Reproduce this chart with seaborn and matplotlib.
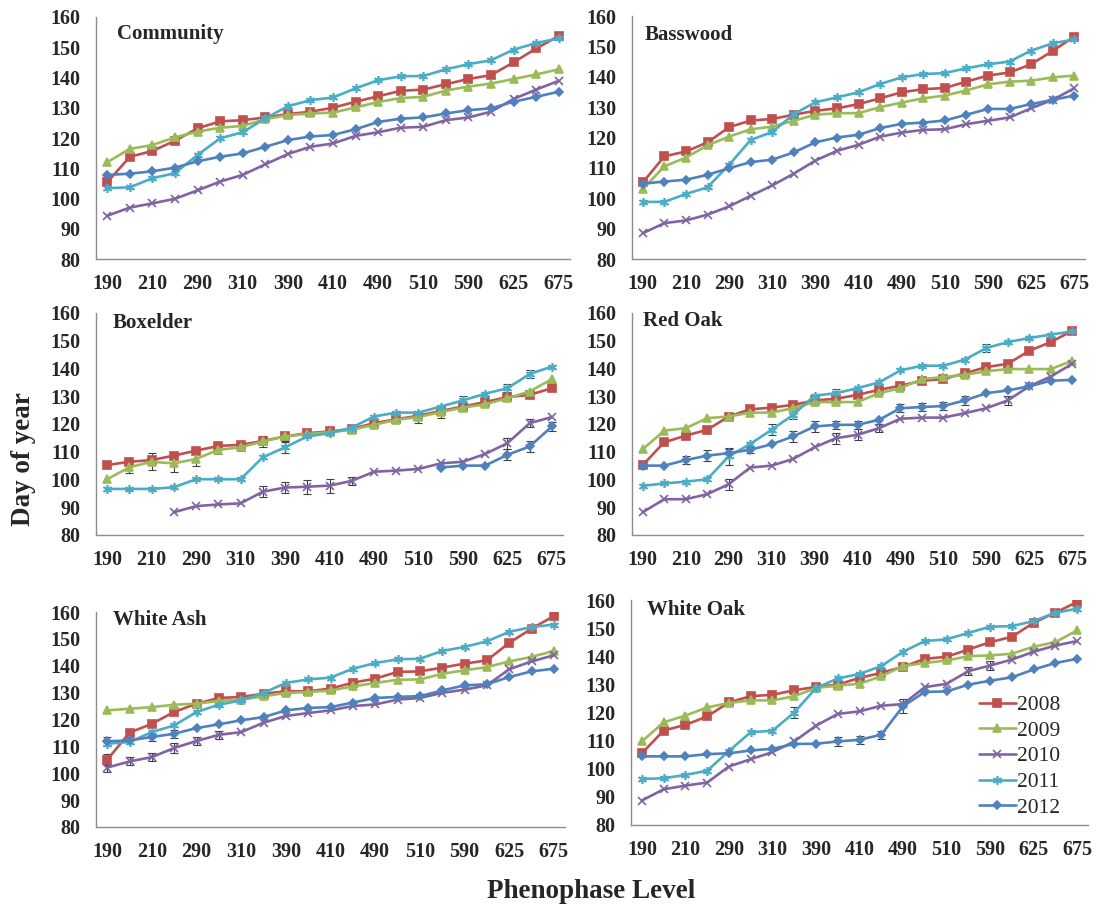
import numpy as np
import pandas as pd
import matplotlib
matplotlib.use("Agg")
import matplotlib.pyplot as plt
import seaborn as sns

# ---------------- data ----------------
levels = ["190", "200", "210", "250", "290", "300", "310", "350", "390", "400", "410",
          "450", "490", "500", "510", "550", "590", "600", "625", "650", "675"]
years = ["2008", "2009", "2010", "2011", "2012"]
panels = ["Community", "Basswood", "Boxelder", "Red Oak", "White Ash", "White Oak"]
NA = np.nan

community_2008 = [105.4, 113.8, 115.7, 119.1, 123.2, 125.5, 125.9, 126.8, 127.9, 128.7, 130.0,
                  132.0, 133.8, 135.6, 136.0, 137.8, 139.5, 140.8, 145.0, 149.6, 153.7]
community_2009 = [112.0, 116.4, 117.7, 120.2, 122.1, 123.4, 124.0, 126.2, 127.6, 128.1, 128.4,
                  130.1, 131.9, 133.2, 133.6, 135.7, 137.0, 138.0, 139.5, 141.0, 142.7]
community_2010 = [94.3, 97.0, 98.4, 99.9, 102.7, 105.6, 107.8, 111.3, 114.7, 117.1, 118.2,
                  120.7, 121.9, 123.4, 123.7, 125.9, 126.8, 128.7, 132.9, 136.0, 138.9]
community_2011 = [103.4, 103.7, 106.7, 108.4, 114.4, 119.9, 121.9, 126.5, 130.5, 132.5, 133.4,
                  136.4, 139.1, 140.4, 140.5, 142.7, 144.4, 145.7, 149.2, 151.4, 152.9]
community_2012 = [107.8, 108.2, 109.0, 110.2, 112.3, 113.8, 114.9, 117.1, 119.3, 120.5, 121.0,
                  122.9, 125.3, 126.4, 126.8, 128.1, 129.2, 129.8, 132.0, 133.6, 135.3]

basswood_2008 = [105.2, 113.8, 115.4, 118.4, 123.4, 125.6, 126.1, 127.5, 128.8, 129.6, 131.0,
                 132.9, 134.9, 135.9, 136.3, 138.4, 140.4, 141.4, 144.1, 148.5, 153.2]
basswood_2009 = [103.0, 110.5, 113.4, 117.4, 120.3, 122.7, 123.6, 125.5, 127.5, 128.0, 128.0,
                 130.0, 131.5, 132.9, 133.8, 135.5, 137.5, 138.4, 138.7, 139.8, 140.4]
basswood_2010 = [88.5, 91.8, 92.7, 94.6, 97.3, 100.8, 104.2, 108.1, 112.4, 115.6, 117.6,
                 120.3, 121.6, 122.5, 122.7, 124.4, 125.5, 126.6, 129.6, 132.4, 136.2]
basswood_2011 = [98.8, 98.8, 101.4, 103.6, 111.0, 119.2, 121.8, 127.7, 131.6, 133.2, 134.9,
                 137.6, 139.8, 140.9, 141.2, 142.8, 144.1, 145.0, 148.6, 151.0, 152.3]
basswood_2012 = [104.8, 105.5, 106.1, 107.7, 109.9, 111.9, 112.7, 115.1, 118.4, 120.0, 120.9,
                 123.1, 124.5, 124.9, 125.6, 127.5, 129.4, 129.4, 131.0, 132.4, 133.8]

boxelder_2008 = [105.2, 106.4, 107.0, 108.6, 110.4, 112.1, 112.5, 113.9, 115.5, 116.7, 117.3,
                 118.2, 120.3, 121.7, 123.0, 124.7, 126.3, 127.9, 129.7, 130.5, 132.9]
boxelder_2009 = [100.1, 104.4, 106.4, 105.8, 107.4, 110.7, 111.6, 113.7, 115.5, 116.4, 117.0,
                 117.9, 119.7, 121.5, 122.5, 124.3, 125.9, 127.1, 129.3, 131.7, 136.2]
boxelder_2010 = [NA, NA, NA, 88.2, 90.4, 91.0, 91.4, 95.6, 97.1, 97.4, 97.8,
                 99.5, 102.8, 103.2, 103.8, 105.8, 106.4, 109.2, 113.1, 120.3, 122.5]
boxelder_2011 = [96.6, 96.6, 96.6, 97.2, 100.1, 100.1, 100.1, 108.0, 111.6, 115.5, 116.7,
                 118.7, 122.7, 124.1, 124.1, 126.3, 128.5, 130.9, 132.9, 138.0, 140.7]
boxelder_2012 = [NA, NA, NA, NA, NA, NA, NA, NA, NA, NA, NA,
                 NA, NA, NA, NA, 104.3, 105.0, 105.0, 108.9, 111.9, 119.1]

redoak_2008 = [105.2, 113.4, 115.8, 117.9, 122.7, 125.3, 125.9, 126.9, 128.5, 129.1, 130.5,
               132.3, 133.8, 135.6, 136.2, 138.3, 140.5, 141.7, 146.4, 149.5, 153.6]
redoak_2009 = [110.9, 117.6, 118.5, 122.1, 122.7, 124.1, 124.1, 125.7, 127.9, 127.9, 127.9,
               131.1, 132.9, 136.2, 136.9, 137.7, 139.0, 139.8, 139.8, 139.8, 142.8]
redoak_2010 = [88.2, 92.9, 92.9, 94.7, 98.3, 104.3, 105.0, 107.4, 111.6, 114.9, 116.1,
               118.5, 121.9, 122.3, 122.3, 123.9, 125.7, 128.5, 133.6, 137.1, 141.7]
redoak_2011 = [97.7, 98.6, 99.2, 100.1, 108.3, 112.8, 117.9, 123.3, 130.2, 131.1, 132.9,
               135.0, 139.3, 141.0, 141.0, 143.2, 147.4, 149.5, 151.0, 152.2, 153.4]
redoak_2012 = [105.0, 105.0, 107.0, 108.6, 109.5, 110.7, 112.7, 115.5, 119.1, 119.7, 119.7,
               121.5, 125.7, 126.1, 126.5, 128.5, 131.1, 132.1, 133.6, 135.6, 135.9]

whiteash_2008 = [105.0, 115.1, 118.4, 122.8, 125.9, 128.0, 128.4, 129.6, 130.5, 130.5, 131.5,
                 133.7, 135.2, 137.7, 137.9, 139.3, 140.8, 142.0, 148.5, 153.8, 158.5]
whiteash_2009 = [123.4, 124.0, 124.6, 125.5, 125.9, 126.9, 127.4, 128.6, 129.9, 130.2, 130.8,
                 132.3, 133.6, 134.8, 134.9, 137.0, 138.3, 139.5, 141.6, 143.3, 145.5]
whiteash_2010 = [102.1, 104.4, 106.0, 109.4, 112.0, 114.3, 115.3, 118.8, 121.3, 122.4, 123.4,
                 125.0, 125.6, 127.4, 128.0, 129.9, 131.1, 132.7, 138.7, 141.6, 143.9]
whiteash_2011 = [111.0, 111.6, 115.3, 117.8, 122.8, 125.5, 127.1, 129.9, 133.6, 134.9, 135.6,
                 138.9, 141.0, 142.4, 142.6, 145.5, 147.0, 149.1, 152.6, 154.4, 155.3]
whiteash_2012 = [111.9, 112.2, 113.5, 114.7, 116.8, 118.2, 119.7, 120.9, 123.4, 124.3, 124.6,
                 126.3, 128.0, 128.4, 128.7, 130.8, 132.7, 133.1, 135.8, 137.9, 138.9]

whiteoak_2008 = [105.5, 113.6, 115.6, 118.6, 123.6, 125.8, 126.3, 127.9, 129.1, 129.9, 132.3,
                 134.1, 136.2, 139.1, 139.8, 142.4, 145.0, 146.9, 151.9, 155.5, 159.3]
whiteoak_2009 = [109.7, 116.5, 118.9, 121.8, 123.4, 124.3, 124.3, 125.8, 128.7, 129.6, 130.2,
                 132.9, 136.5, 137.6, 138.5, 140.0, 140.3, 140.9, 143.4, 145.0, 149.2]
whiteoak_2010 = [88.7, 92.7, 94.0, 95.1, 100.8, 103.4, 105.9, 109.7, 115.3, 119.5, 120.4,
                 122.4, 123.0, 129.0, 130.2, 134.7, 136.7, 138.8, 141.6, 143.8, 145.4]
whiteoak_2011 = [96.4, 96.6, 97.8, 99.3, 106.3, 113.0, 113.5, 120.0, 128.7, 132.1, 133.7,
                 136.5, 141.6, 145.4, 146.0, 148.3, 150.5, 150.7, 152.5, 155.5, 156.9]
whiteoak_2012 = [104.4, 104.4, 104.4, 105.2, 105.5, 106.5, 107.1, 108.8, 108.9, 109.7, 110.3,
                 112.1, 122.2, 127.3, 127.5, 129.9, 131.3, 132.5, 135.3, 137.6, 139.1]

panel_series = {
    "Community": [community_2008, community_2009, community_2010, community_2011, community_2012],
    "Basswood": [basswood_2008, basswood_2009, basswood_2010, basswood_2011, basswood_2012],
    "Boxelder": [boxelder_2008, boxelder_2009, boxelder_2010, boxelder_2011, boxelder_2012],
    "Red Oak": [redoak_2008, redoak_2009, redoak_2010, redoak_2011, redoak_2012],
    "White Ash": [whiteash_2008, whiteash_2009, whiteash_2010, whiteash_2011, whiteash_2012],
    "White Oak": [whiteoak_2008, whiteoak_2009, whiteoak_2010, whiteoak_2011, whiteoak_2012],
}

# standard errors visible in the picture: (panel, year, level index, error)
error_panel = ["Boxelder"] * 24 + ["Red Oak"] * 22 + ["White Ash"] * 10 + ["White Oak"] * 7
error_year = (["2009"] * 10 + ["2010"] * 7 + ["2011"] * 4 + ["2012"] * 3
              + ["2011"] * 5 + ["2012"] * 12 + ["2010"] * 5
              + ["2010"] * 6 + ["2012"] * 3 + ["2008"]
              + ["2011"] + ["2012"] * 4 + ["2010"] * 2)
error_index = ([1, 2, 3, 4, 5, 6, 7, 8, 14, 15] + [7, 8, 9, 10, 11, 18, 19] + [8, 16, 18, 19] + [18, 19, 20]
               + [4, 6, 7, 9, 16] + [2, 3, 4, 5, 7, 8, 9, 10, 12, 13, 14, 15] + [4, 9, 10, 11, 17]
               + [0, 1, 2, 3, 4, 5] + [0, 2, 3] + [0]
               + [7] + [9, 10, 11, 12] + [15, 16])
error_value = ([2.0, 3.0, 3.0, 2.5, 1.5, 1.5, 2.0, 1.5, 2.0, 2.0] + [2.0, 2.0, 2.5, 2.5, 1.5, 2.0, 1.5]
               + [2.0, 1.5, 1.5, 1.5] + [2.0, 2.0, 1.5]
               + [3.0, 2.0, 1.5, 1.5, 1.5] + [1.5, 2.0, 1.5, 1.0, 2.0, 2.0, 1.5, 1.5, 1.5, 1.5, 1.5, 1.5]
               + [2.0, 2.0, 2.0, 1.5, 1.5]
               + [1.5, 1.5, 1.5, 2.0, 1.5, 1.5] + [1.5, 1.5, 1.5] + [2.0]
               + [2.0] + [1.5, 1.5, 1.5, 2.5] + [1.5, 1.5])

# ---------------- style ----------------
colors = {"2008": "#C0504D", "2009": "#9BBB59", "2010": "#8064A2", "2011": "#4BACC6", "2012": "#4F81BD"}
markers = {"2008": "s", "2009": "^", "2010": "x", "2011": (6, 2, 0), "2012": "D"}
msizes = {"2008": 5.2, "2009": 5.2, "2010": 5.5, "2011": 6.5, "2012": 4.5}

sns.set_theme(style="white")
plt.rcParams["font.family"] = ["Liberation Serif", "DejaVu Serif"]

W, H = 1104, 909
fig = plt.figure(figsize=(W / 100, H / 100), dpi=100)

# axes rectangles in pixels: (left, right, top, bottom)
rects = [(96, 570, 17, 259), (632, 1085, 16, 259),
         (96, 563, 313, 535), (632, 1083, 313, 535),
         (96, 565, 612, 827), (631, 1088, 600, 825)]
title_pos = [(0.044, 0.93), (0.029, 0.92), (0.036, 0.955), (0.025, 0.965), (0.036, 0.965), (0.035, 0.955)]

axis_color = "#8c8c8c"
x_idx = np.arange(len(levels))

for k, name in enumerate(panels):
    l, r, t, b = rects[k]
    ax = fig.add_axes([l / W, 1 - b / H, (r - l) / W, (b - t) / H])
    rows = []
    for year, vals in zip(years, panel_series[name]):
        for i, v in enumerate(vals):
            rows.append({"idx": i, "day": v, "year": year})
    df = pd.DataFrame(rows).dropna()

    # error bars first (behind lines)
    for p, yr, i, e in zip(error_panel, error_year, error_index, error_value):
        if p == name:
            v = panel_series[name][years.index(yr)][i]
            ax.errorbar([i], [v], yerr=[e], fmt="none", ecolor="#404040", elinewidth=0.8,
                        capsize=3, capthick=0.8, zorder=1)

    for year in years:
        sub = df[df["year"] == year]
        sns.lineplot(data=sub, x="idx", y="day", ax=ax, color=colors[year],
                     marker=markers[year], markersize=msizes[year], linewidth=1.9,
                     markeredgecolor=colors[year], markeredgewidth=1.2,
                     label=year, legend=False, zorder=3)

    ax.set_xlim(-0.5, len(levels) - 0.5)
    ax.set_ylim(80, 160)
    ax.set_yticks(np.arange(80, 161, 10))
    ax.set_xticks(x_idx[::2])
    ax.set_xticklabels(levels[::2])
    ax.set_xticks(np.arange(-0.5, len(levels), 1.0), minor=True)
    ax.set_xlabel("")
    ax.set_ylabel("")
    for s in ["top", "right"]:
        ax.spines[s].set_visible(False)
    for s in ["left", "bottom"]:
        ax.spines[s].set_color(axis_color)
        ax.spines[s].set_linewidth(1.0)
    ax.tick_params(axis="x", which="major", length=0, pad=11, labelsize=14.5)
    ax.tick_params(axis="x", which="minor", length=5, color=axis_color, width=1.0, direction="out")
    ax.tick_params(axis="y", which="major", length=4, color=axis_color, width=1.0, direction="out",
                   pad=7, labelsize=14.5)
    for lab in ax.get_xticklabels() + ax.get_yticklabels():
        lab.set_fontweight("bold")
    ax.grid(False)
    ax.set_facecolor("white")
    tx, ty = title_pos[k]
    ax.text(tx, ty, name, transform=ax.transAxes, ha="left", va="center",
            fontsize=15, fontweight="bold")

    if name == "White Oak":
        handles, labels_ = ax.get_legend_handles_labels()
        ax.legend(handles, labels_, loc="upper left",
                  bbox_to_anchor=(979 / W, 1 - 695 / H), bbox_transform=fig.transFigure,
                  frameon=False, fontsize=15.5, handlelength=1.7, handletextpad=0.05,
                  labelspacing=0.26, borderpad=0, borderaxespad=0)

fig.text(24 / W, 1 - 459 / H, "Day of year", rotation=90, ha="center", va="center",
         fontsize=19.5, fontweight="bold")
fig.text(591 / W, 1 - 891 / H, "Phenophase Level", ha="center", va="center",
         fontsize=19.5, fontweight="bold")

fig.savefig("out.png", dpi=100, facecolor="white")
